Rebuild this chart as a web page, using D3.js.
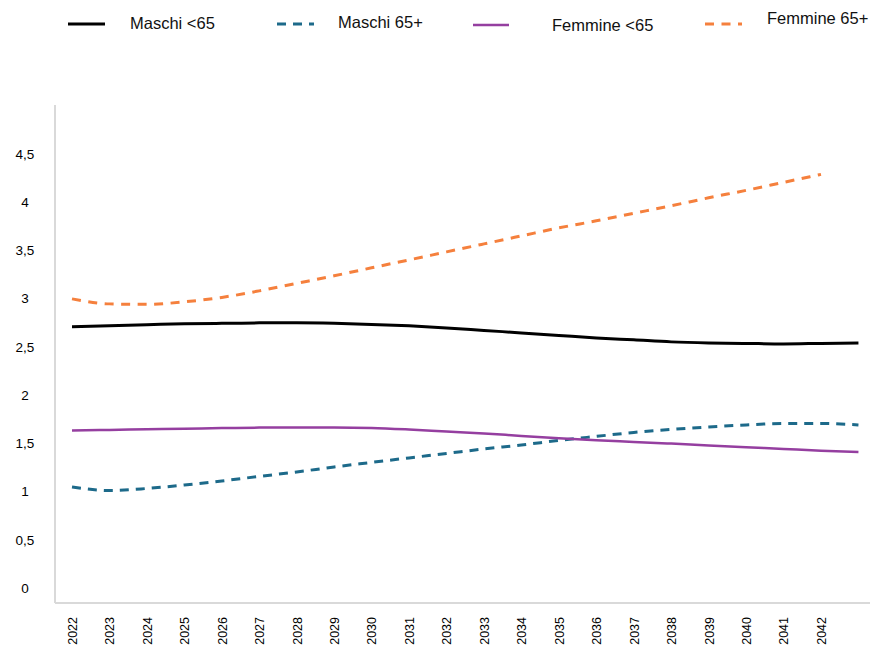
<!DOCTYPE html>
<html>
<head>
<meta charset="utf-8">
<script src="https://cdn.jsdelivr.net/npm/d3@7"></script>
<style>
  html, body { margin: 0; padding: 0; background: #fff; }
  svg { display: block; font-family: "Liberation Sans", Arial, Helvetica, sans-serif; }
</style>
</head>
<body>
<svg id="chart" width="870" height="648"></svg>
<script>
// Years shown on the horizontal axis
const years = d3.range(2022, 2043);
// Tick values shown on the vertical axis
const yTicks = [0, 0.5, 1, 1.5, 2, 2.5, 3, 3.5, 4, 4.5];

// Series values, one per year starting in 2022
const maschiUnder65 = [2.71, 2.72, 2.73, 2.74, 2.744, 2.749, 2.749, 2.744, 2.733, 2.718, 2.697,
  2.671, 2.645, 2.619, 2.593, 2.573, 2.552, 2.541, 2.536, 2.531, 2.536, 2.541];
const maschiOver65 = [1.048, 1.011, 1.032, 1.068, 1.11, 1.157, 1.203, 1.255, 1.302, 1.349, 1.395,
  1.442, 1.483, 1.53, 1.572, 1.613, 1.644, 1.67, 1.691, 1.706, 1.706, 1.691];
const femmineUnder65 = [1.634, 1.639, 1.646, 1.652, 1.658, 1.663, 1.665, 1.665, 1.66, 1.644, 1.623,
  1.603, 1.577, 1.553, 1.532, 1.515, 1.497, 1.478, 1.46, 1.442, 1.424, 1.41];
const femmineOver65 = [2.998, 2.946, 2.941, 2.967, 3.013, 3.081, 3.159, 3.237, 3.32, 3.402, 3.485,
  3.568, 3.651, 3.734, 3.807, 3.885, 3.963, 4.046, 4.123, 4.206, 4.289];

const seriesNames = ["Maschi <65", "Maschi 65+", "Femmine <65", "Femmine 65+"];

const series = [
  { name: seriesNames[0], values: maschiUnder65, color: "#000000", width: 3, dash: null },
  { name: seriesNames[1], values: maschiOver65, color: "#1d6a8a", width: 3, dash: "9,7" },
  { name: seriesNames[2], values: femmineUnder65, color: "#953fa0", width: 2.5, dash: null },
  { name: seriesNames[3], values: femmineOver65, color: "#f5803d", width: 3, dash: "9,7.5" }
];

const svg = d3.select("#chart");
const plot = { left: 55, right: 870, top: 105, bottom: 603 };

const x = d3.scaleLinear().domain([2022, 2042]).range([72, 821]);
const y = d3.scaleLinear().domain([0, 4.5]).range([588, 154]);

// clip lines to the plot area
svg.append("defs").append("clipPath").attr("id", "plotClip")
  .append("rect")
  .attr("x", plot.left).attr("y", plot.top)
  .attr("width", plot.right - plot.left).attr("height", plot.bottom - plot.top);

// axis frame lines
svg.append("line")
  .attr("x1", plot.left).attr("x2", plot.left)
  .attr("y1", plot.top).attr("y2", plot.bottom)
  .attr("stroke", "#d9d9d9").attr("stroke-width", 2);
svg.append("line")
  .attr("x1", plot.left).attr("x2", plot.right)
  .attr("y1", plot.bottom).attr("y2", plot.bottom)
  .attr("stroke", "#d9d9d9").attr("stroke-width", 2);

// y axis labels
const fmt = v => String(v).replace(".", ",");
const yAxis = d3.axisLeft(y).tickValues(yTicks).tickFormat(fmt).tickSize(0).tickPadding(0);
const gy = svg.append("g").attr("transform", "translate(25,0)").call(yAxis);
gy.select(".domain").remove();
gy.selectAll("text")
  .attr("text-anchor", "middle")
  .attr("font-size", 13.5)
  .attr("font-family", "Liberation Sans, Arial, sans-serif")
  .attr("fill", "#000");

// x axis labels (rotated)
const xAxis = d3.axisBottom(x).tickValues(years).tickFormat(d3.format("d")).tickSize(0).tickPadding(0);
const gx = svg.append("g").attr("transform", "translate(0,617)").call(xAxis);
gx.select(".domain").remove();
gx.selectAll("text")
  .attr("transform", "rotate(-90)")
  .attr("text-anchor", "end")
  .attr("x", 0)
  .attr("y", 0)
  .attr("dy", "0.35em")
  .attr("font-size", 12.5)
  .attr("font-family", "Liberation Sans, Arial, sans-serif")
  .attr("fill", "#000");

// series lines
const line = d3.line()
  .x((d, i) => x(2022 + i))
  .y(d => y(d))
  .curve(d3.curveMonotoneX);

const lines = svg.append("g").attr("clip-path", "url(#plotClip)");
series.forEach(s => {
  lines.append("path")
    .datum(s.values)
    .attr("d", line)
    .attr("fill", "none")
    .attr("stroke", s.color)
    .attr("stroke-width", s.width)
    .attr("stroke-dasharray", s.dash);
});

// legend
const legendItems = [
  { s: series[0], x1: 68, x2: 105, ly: 24, tx: 130, ty: 23 },
  { s: series[1], x1: 277, x2: 314, ly: 24, tx: 338, ty: 22 },
  { s: series[2], x1: 473, x2: 509, ly: 25, tx: 552, ty: 25 },
  { s: series[3], x1: 705, x2: 742, ly: 24, tx: 767, ty: 18 }
];
const legend = svg.append("g");
legendItems.forEach(item => {
  legend.append("line")
    .attr("x1", item.x1).attr("x2", item.x2)
    .attr("y1", item.ly).attr("y2", item.ly)
    .attr("stroke", item.s.color)
    .attr("stroke-width", item.s.width)
    .attr("stroke-dasharray", item.s.dash);
  legend.append("text")
    .attr("x", item.tx).attr("y", item.ty)
    .attr("dy", "0.35em")
    .attr("font-size", 16.5)
    .attr("fill", "#111")
    .text(item.s.name);
});
</script>
</body>
</html>
